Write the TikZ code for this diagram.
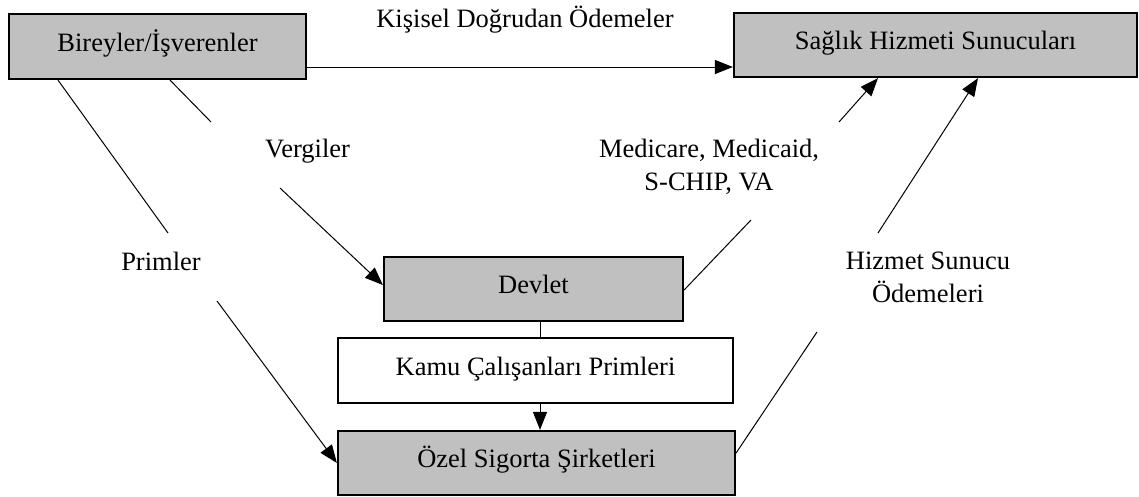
\documentclass[tikz,border=0pt]{standalone}
\usepackage{fontspec}
\setmainfont{Liberation Serif}
\usetikzlibrary{arrows.meta}
\definecolor{boxgray}{HTML}{C0C0C0}
\begin{document}
\begin{tikzpicture}[x=1pt,y=-1pt,
  every node/.style={font=\fontsize{26.5}{32.5}\selectfont, inner sep=0pt},
  box/.style={draw=black, line width=2.2pt, fill=boxgray, text height=20pt, text depth=11pt},
  wbox/.style={box, fill=white},
  lbl/.style={anchor=base, align=center},
  conn/.style={line width=1pt},
  arr/.style={conn, -{Triangle[length=18pt,width=14pt]}}]
\useasboundingbox (0,0) rectangle (1139,496);
\node[box, minimum width=297pt, minimum height=65pt] (bir) at (157.5,46.5) {Bireyler/İşverenler};
\node[box, minimum width=403pt, minimum height=64pt] (sag) at (935.5,45) {Sağlık Hizmeti Sunucuları};
\node[box, minimum width=299pt, minimum height=64pt] (dev) at (533.5,289) {Devlet};
\node[wbox, minimum width=395pt, minimum height=65pt] (kamu) at (535.5,370.5) {Kamu Çalışanları Primleri};
\node[box, minimum width=397pt, minimum height=64pt] (ozel) at (536.5,463) {Özel Sigorta Şirketleri};
\coordinate (p1) at (168,233);
\coordinate (p2) at (217,301);
\coordinate (v1) at (211,122);
\coordinate (v2) at (280,188);
\coordinate (m1) at (751,220);
\coordinate (m2) at (839,122);
\coordinate (h1) at (817,332);
\coordinate (h2) at (878,233);
\coordinate (vx) at (540,0);
\draw[arr] ([yshift=-20.5pt]bir.east) -- ([yshift=-22pt]sag.west);
\draw[conn] ([xshift=-99.5pt]bir.south) -- (p1);
\draw[arr] (p2) -- (ozel.west);
\draw[conn] ([xshift=12.5pt]bir.south) -- (v1);
\draw[arr] (v2) -- ([yshift=4pt]dev.west);
\draw[conn] ([yshift=-1pt]dev.east) -- (m1);
\draw[arr] (m2) -- ([xshift=-57.5pt]sag.south);
\draw[conn] ([yshift=10pt]ozel.east) -- (h1);
\draw[arr] (h2) -- ([xshift=42.5pt]sag.south);
\draw[conn] (dev.south -| vx) -- (kamu.north -| vx);
\draw[arr] (kamu.south -| vx) -- (ozel.north -| vx);
\node[lbl] (lk) at (525,27) {Kişisel Doğrudan Ödemeler};
\node[lbl] (lv) at (307.5,157) {Vergiler};
\node[lbl] (lp) at (161,270) {Primler};
\node[lbl] (lm) at (709,190) {Medicare, Medicaid,\\S-CHIP, VA};
\node[lbl] (lh) at (928,302) {Hizmet Sunucu\\Ödemeleri};
\end{tikzpicture}
\end{document}
